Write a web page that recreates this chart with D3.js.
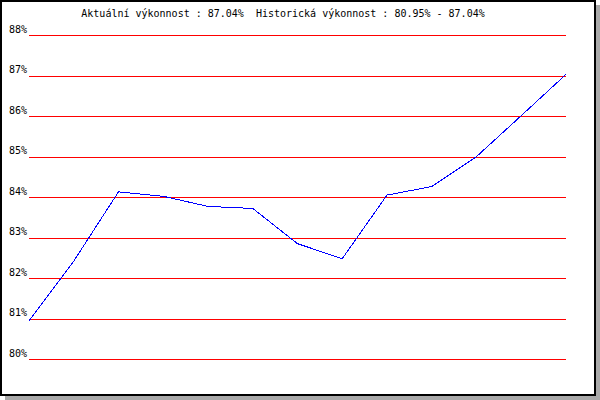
<!DOCTYPE html>
<html>
<meta charset="utf-8">
<head>
  <title>Výkonnost</title>
</head>

<style>
body { margin: 0; background: white; }
text {
  font-family: "DejaVu Sans Mono", monospace;
  font-size: 10px;
  fill: black;
  white-space: pre;
}
</style>

<body>
  <div id="chart"></div>

  <script src="https://d3js.org/d3.v7.min.js"></script>
  <script>

var titleText = 'Aktuální výkonnost : 87.04%  Historická výkonnost : 80.95% - 87.04%';
var yTicks = [80, 81, 82, 83, 84, 85, 86, 87, 88];
var points = [0, 1, 2, 3, 4, 5, 6, 7, 8, 9, 10, 11, 12];
var performance = [80.95, 82.43, 84.14, 84.03, 83.78, 83.73, 82.86, 82.49, 84.06, 84.27, 85.01, 86.02, 87.04];

var width = 600, height = 400;

const svg = d3.select('#chart')
  .append('svg')
  .attr('width', width)
  .attr('height', height);

// shadow + frame
svg.append('rect').attr('x', 5).attr('y', 5).attr('width', 595).attr('height', 395).attr('fill', '#a9a9a9');
svg.append('rect')
  .attr('x', 1).attr('y', 1)
  .attr('width', 594).attr('height', 394)
  .attr('fill', 'white')
  .attr('stroke', 'black')
  .attr('stroke-width', 2);

var x = d3.scalePoint()
  .domain(points)
  .range([29, 566]);

var y = d3.scaleLinear()
  .domain([80, 88])
  .range([359.5, 35.5]);

// gridlines
svg.append('g')
  .selectAll('line')
  .data(yTicks)
  .enter()
  .append('line')
  .attr('x1', 29)
  .attr('x2', 566)
  .attr('y1', function(d) { return Math.round(y(d) - 0.5) + 0.5; })
  .attr('y2', function(d) { return Math.round(y(d) - 0.5) + 0.5; })
  .attr('stroke', '#ff0000')
  .attr('stroke-width', 1)
  .attr('shape-rendering', 'crispEdges');

// labels
svg.append('g')
  .selectAll('text')
  .data(yTicks)
  .enter()
  .append('text')
  .attr('x', 27)
  .attr('y', function(d) { return Math.round(y(d)) - 3; })
  .attr('text-anchor', 'end')
  .text(function(d) { return d + '%'; });

// performance line
var line = d3.line()
  .x(function(d, i) { return x(points[i]); })
  .y(function(d) { return y(d); });

svg.append('path')
  .datum(performance)
  .attr('d', line)
  .attr('fill', 'none')
  .attr('stroke', '#0000ff')
  .attr('stroke-width', 1)
  .attr('shape-rendering', 'crispEdges');

svg.append('text')
  .attr('x', 283)
  .attr('y', 17)
  .attr('text-anchor', 'middle')
  .text(titleText);

  </script>
</body>
</html>
